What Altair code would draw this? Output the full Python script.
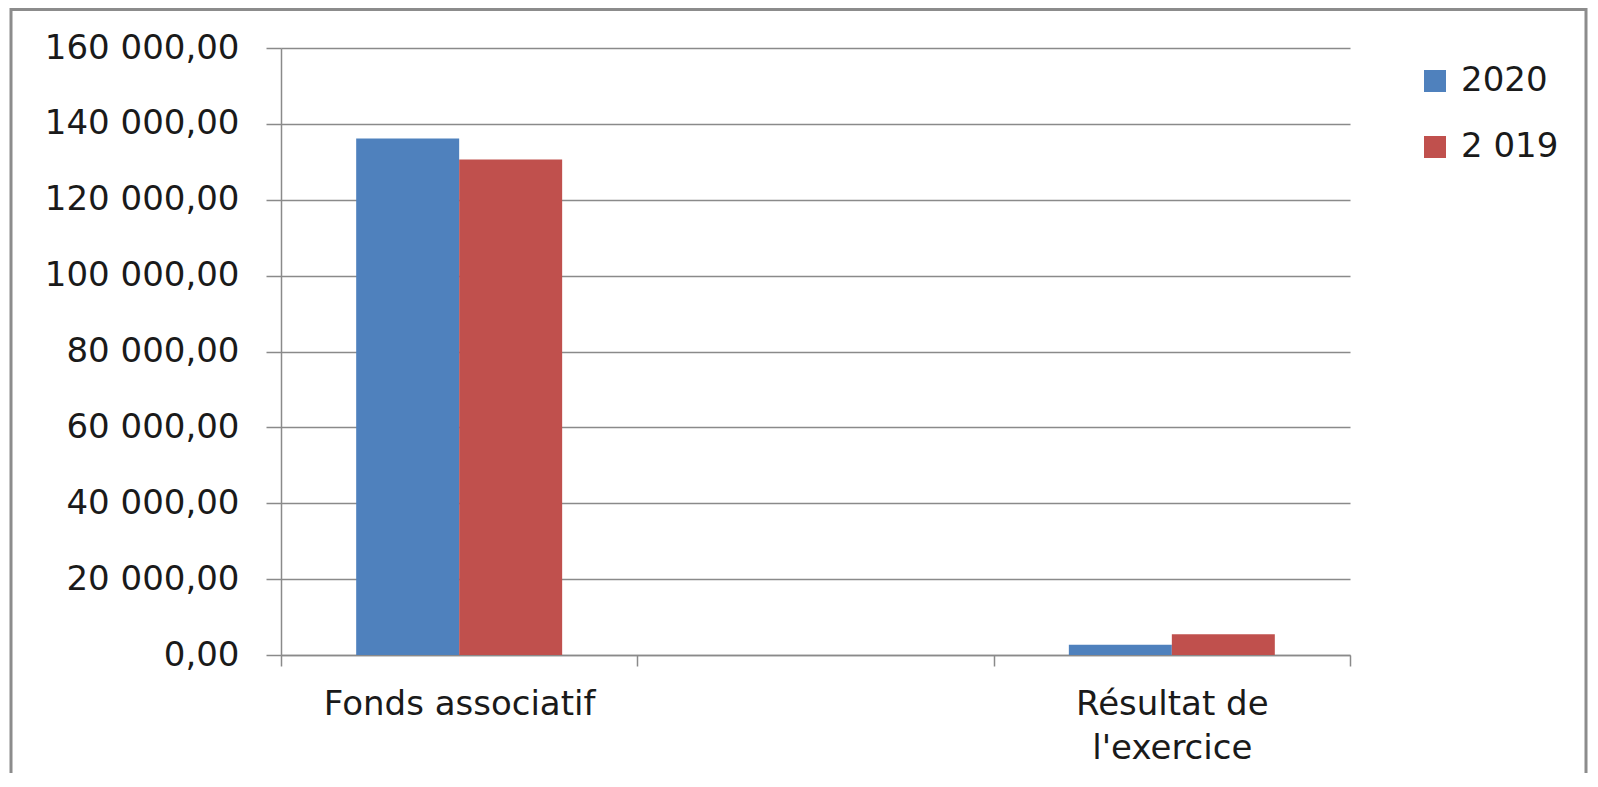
import altair as alt
import pandas as pd

categories = ["Fonds associatif", "Résultat de l'exercice"]
axis_slots = ["Fonds associatif", " ", "Résultat de l'exercice"]
series = ["2020", "2 019"]
values_2020 = [136150, 2700]
values_2019 = [130600, 5450]
y_ticks = [0, 20000, 40000, 60000, 80000, 100000, 120000, 140000, 160000]
colors = ["#4F81BD", "#C0504D"]

rows = []
for c, a, b in zip(categories, values_2020, values_2019):
    rows.append({"categorie": c, "serie": series[0], "valeur": a})
    rows.append({"categorie": c, "serie": series[1], "valeur": b})
df = pd.DataFrame(rows)

FONT = "DejaVu Sans"
GRID = "#8a8a8a"
FS = 34

fr_label = ("replace(replace(format(datum.value, ',.2f'), regexp(',', 'g'), ' '),"
            " regexp('\\\\.', 'g'), ',')")

x_label = ("datum.label == \"Résultat de l'exercice\" ? "
           "['Résultat de', \"l'exercice\"] : datum.label")

bars = alt.Chart(df).mark_bar().encode(
    x=alt.X(
        "categorie:N",
        scale=alt.Scale(domain=axis_slots, paddingInner=0, paddingOuter=0),
        axis=alt.Axis(
            title=None, labelAngle=0, tickBand="extent", tickSize=11,
            tickColor=GRID, tickWidth=1.5, domainColor=GRID, domainWidth=1.5,
            labelFont=FONT, labelFontSize=FS, labelColor="#1a1a1a",
            labelPadding=21, labelLineHeight=44, labelExpr=x_label,
            labelLimit=0, grid=False,
        ),
    ),
    xOffset=alt.XOffset(
        "serie:N",
        scale=alt.Scale(domain=series, paddingInner=0, paddingOuter=0.73),
    ),
    y=alt.Y(
        "valeur:Q",
        scale=alt.Scale(domain=[0, 160000], nice=False),
        axis=alt.Axis(
            title=None, values=y_ticks, labelExpr=fr_label, tickSize=15,
            tickColor=GRID, tickWidth=1.5, domainColor=GRID, domainWidth=1.5,
            gridColor=GRID, gridWidth=1.5, labelFont=FONT, labelFontSize=FS,
            labelColor="#1a1a1a", labelPadding=27, labelLimit=0,
        ),
    ),
    color=alt.Color(
        "serie:N",
        scale=alt.Scale(domain=series, range=colors),
        sort=series,
        legend=alt.Legend(
            title=None, orient="none", legendX=1137, legendY=16,
            symbolType="square", symbolSize=484, symbolStrokeWidth=0,
            labelFont=FONT, labelFontSize=FS, labelColor="#1a1a1a",
            labelOffset=9, rowPadding=32, labelLimit=0,
        ),
    ),
)

frame = alt.Chart(pd.DataFrame({"k": [0]})).mark_rect(
    fillOpacity=0, stroke="#8c8c8c", strokeWidth=3
).encode(
    x=alt.value(-270), x2=alt.value(1305),
    y=alt.value(-38.5), y2=alt.value(800),
)

chart = alt.layer(frame, bars).properties(
    width=1069,
    height=607,
    padding={"left": 273, "top": 40, "right": 238, "bottom": 118},
    autosize=alt.AutoSizeParams(type="none"),
).configure_view(stroke=None)

chart.save("out.html", embed_options={"renderer": "svg", "actions": False})
